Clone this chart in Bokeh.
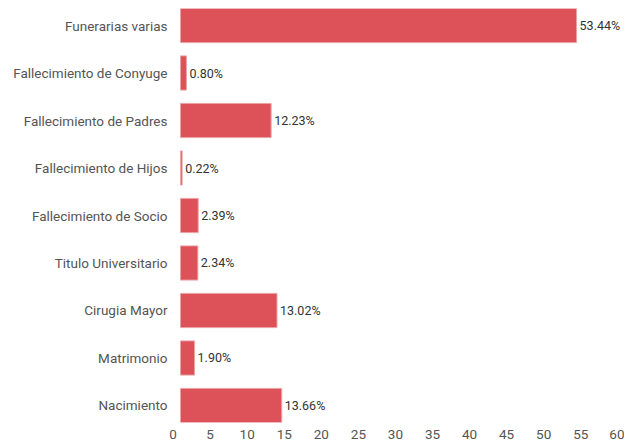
from bokeh.plotting import figure
from bokeh.models import FactorRange, Range1d, FixedTicker, ColumnDataSource
from bokeh.core.properties import value
from bokeh.embed import file_html
from bokeh.resources import INLINE

categories = ["Funerarias varias", "Fallecimiento de Conyuge", "Fallecimiento de Padres",
              "Fallecimiento de Hijos", "Fallecimiento de Socio", "Titulo Universitario",
              "Cirugia Mayor", "Matrimonio", "Nacimiento"]
values = [53.44, 0.80, 12.23, 0.22, 2.39, 2.34, 13.02, 1.90, 13.66]
labels = ["53.44%", "0.80%", "12.23%", "0.22%", "2.39%", "2.34%", "13.02%", "1.90%", "13.66%"]
tick_values = [0, 5, 10, 15, 20, 25, 30, 35, 40, 45, 50, 55, 60]

# the reference's axis labels sit about one unit left of the bars' origin
label_shift = 1

src = ColumnDataSource(dict(cat=categories, val=values, lab=labels))

p = figure(width=624, height=447, output_backend="svg", toolbar_location=None,
           y_range=FactorRange(factors=list(reversed(categories)), range_padding=-0.142,
                               range_padding_units="absolute"),
           x_range=Range1d(-1.08, 59.5),
           min_border_top=8, min_border_right=3, min_border_bottom=25, min_border_left=172)

p.hbar(y="cat", right="val", left=0, height=0.72, source=src,
       fill_color="#DD5259", line_color="#EBA3A6", line_width=1)
p.text(x="val", y="cat", text="lab", source=src, x_offset=3, text_baseline="middle",
       text_align="left", text_font=value("Roboto"), text_font_size="12.5px", text_color="#333333")

ticks = [t - label_shift for t in tick_values]
p.xaxis.ticker = FixedTicker(ticks=ticks)
p.xaxis.major_label_overrides = {t - label_shift: str(t) for t in tick_values}

for ax in (p.xaxis, p.yaxis):
    ax.axis_line_color = None
    ax.major_tick_line_color = None
    ax.minor_tick_line_color = None
    ax.major_tick_out = 0
    ax.major_tick_in = 0
    ax.minor_tick_out = 0
    ax.minor_tick_in = 0
    ax.major_label_text_font = "Roboto"
    ax.major_label_text_color = "#555555"
    ax.major_label_text_font_size = "13.5px"
p.xaxis.major_label_standoff = 7
p.yaxis.major_label_standoff = 5

p.xgrid.visible = False
p.ygrid.visible = False
p.outline_line_color = None

open("out.html", "w").write(file_html(p, INLINE))
